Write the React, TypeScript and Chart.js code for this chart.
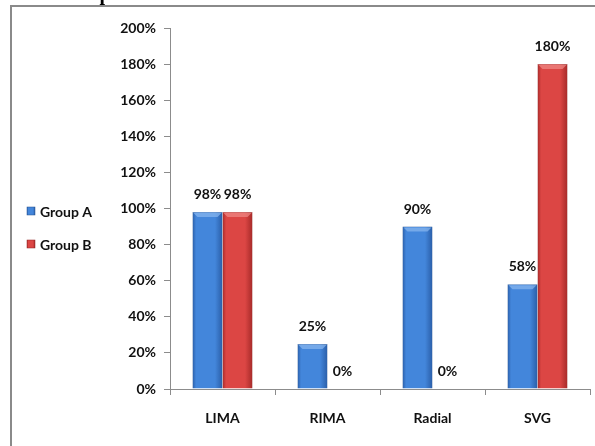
import React, { useEffect, useRef } from "react";
import { Chart, registerables } from "chart.js";

Chart.register(...registerables);

const categories = ["LIMA", "RIMA", "Radial", "SVG"];
const groupA = [98, 25, 90, 58];
const groupB = [98, 0, 0, 180];
const seriesNames = ["Group A", "Group B"];
const yTicksMax = 200;
const yTickStep = 20;

const FONT = "Lato, 'Open Sans', sans-serif";

const palettes = [
  { dark: "#2a5ea8", mid: "#4386db", light: "#8ab8ef", edge: "#24528f" },
  { dark: "#a62a29", mid: "#dc4644", light: "#f08a88", edge: "#8e2221" },
];

function barGradient(c: CanvasRenderingContext2D, x0: number, x1: number, p: any) {
  const g = c.createLinearGradient(x0, 0, x1, 0);
  g.addColorStop(0, p.dark);
  g.addColorStop(0.12, p.mid);
  g.addColorStop(0.75, p.mid);
  g.addColorStop(1, p.dark);
  return g;
}

const gradientPlugin = {
  id: "gradientBars",
  beforeDatasetsDraw(chart: any) {
    const c = chart.ctx;
    chart.data.datasets.forEach((_: any, di: number) => {
      const meta = chart.getDatasetMeta(di);
      const p = palettes[di];
      meta.data.forEach((el: any) => {
        const half = el.width / 2;
        el.options = Object.assign({}, el.options, {
          backgroundColor: barGradient(c, el.x - half, el.x + half, p),
          borderColor: p.edge,
        });
      });
    });
  },
  afterDatasetsDraw(chart: any) {
    const c = chart.ctx;
    c.save();
    chart.data.datasets.forEach((ds: any, di: number) => {
      const meta = chart.getDatasetMeta(di);
      const p = palettes[di];
      meta.data.forEach((el: any, i: number) => {
        const half = el.width / 2;
        const h = el.base - el.y;
        if (h > 6) {
          // top bevel
          c.fillStyle = p.light;
          c.beginPath();
          c.moveTo(el.x - half + 1, el.y + 1);
          c.lineTo(el.x + half - 1, el.y + 1);
          c.lineTo(el.x + half - 5, el.y + 5);
          c.lineTo(el.x - half + 5, el.y + 5);
          c.closePath();
          c.globalAlpha = 0.7;
          c.fill();
          c.globalAlpha = 1;
        }
        const v = ds.data[i];
        c.fillStyle = "#111";
        c.font = `bold 14px ${FONT}`;
        c.textAlign = "center";
        c.textBaseline = "alphabetic";
        c.fillText(v + "%", el.x, el.y - 13);
      });
    });
    c.restore();
  },
  afterDraw(chart: any) {
    const c = chart.ctx;
    c.save();
    // outer frame
    c.strokeStyle = "#8a8a8a";
    c.lineWidth = 2;
    c.beginPath();
    c.moveTo(11, 460);
    c.lineTo(11, 6);
    c.lineTo(610, 6);
    c.stroke();
    // cut-off heading fragment
    c.fillStyle = "#000";
    c.font = "bold 20px 'Liberation Serif', serif";
    c.textAlign = "center";
    c.textBaseline = "alphabetic";
    c.fillText("p", 105, 0);
    // legend
    const ys = [211, 244];
    chart.data.datasets.forEach((ds: any, di: number) => {
      const p = palettes[di];
      const y = ys[di];
      c.fillStyle = barGradient(c, 27, 35, p);
      c.fillRect(27, y - 4, 8, 8);
      c.strokeStyle = p.edge;
      c.lineWidth = 0.5;
      c.strokeRect(27, y - 4, 8, 8);
      c.fillStyle = "#111";
      c.font = `bold 14px ${FONT}`;
      c.textAlign = "left";
      c.textBaseline = "middle";
      c.fillText(ds.label, 40, y + 1);
    });
    c.restore();
  },
};

export default function App() {
  const ref = useRef<HTMLCanvasElement | null>(null);
  useEffect(() => {
    if (!ref.current) return;
    const chart = new Chart(ref.current, {
      type: "bar",
      data: {
        labels: categories,
        datasets: [
          { label: seriesNames[0], data: groupA, backgroundColor: palettes[0].mid, borderWidth: 0.5, categoryPercentage: 0.572, barPercentage: 1 },
          { label: seriesNames[1], data: groupB, backgroundColor: palettes[1].mid, borderWidth: 0.5, categoryPercentage: 0.572, barPercentage: 1 },
        ],
      },
      options: {
        responsive: false,
        animation: false,
        layout: { padding: { top: 28, right: 5, left: 0, bottom: 0 } },
        plugins: { legend: { display: false }, tooltip: { enabled: false } },
        scales: {
          x: {
            grid: { display: true, drawOnChartArea: false, drawTicks: true, tickLength: 6, color: "#8c8c8c", offset: true },
            border: { display: true, color: "#8c8c8c" },
            ticks: { color: "#111", font: { family: FONT, size: 14, weight: "bold" }, padding: 15 },
            afterFit: (s: any) => { s.height = 57; },
          },
          y: {
            min: 0,
            max: yTicksMax,
            ticks: {
              stepSize: yTickStep,
              callback: (v: any) => v + "%",
              color: "#111",
              font: { family: FONT, size: 14, weight: "bold" },
              padding: 8,
            },
            grid: { display: true, drawOnChartArea: false, drawTicks: true, tickLength: 6, color: "#8c8c8c" },
            border: { display: true, color: "#8c8c8c" },
            afterFit: (s: any) => { s.width = 170; },
          },
        },
      },
      plugins: [gradientPlugin],
    });
    return () => chart.destroy();
  }, []);
  return (
    <div style={{ position: "fixed", left: 0, top: 0, width: 595, height: 446, background: "#fff", overflow: "hidden" }}>
      <canvas ref={ref} width={595} height={446} style={{ display: "block" }} />
    </div>
  );
}
